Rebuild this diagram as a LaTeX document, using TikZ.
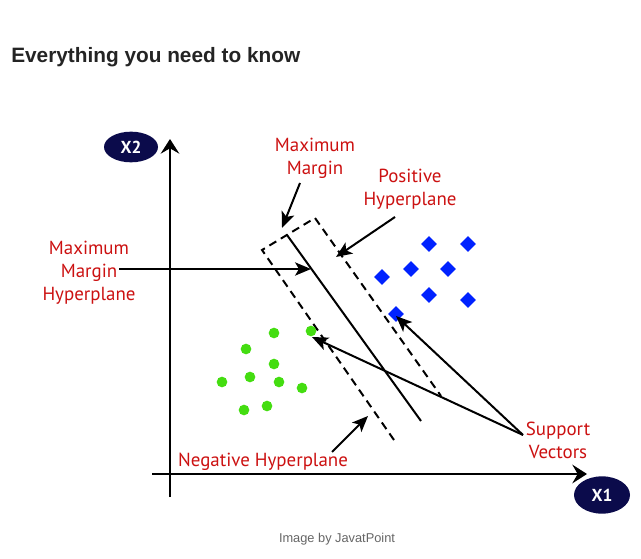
\documentclass[tikz,border=0pt]{standalone}
\usepackage{fontspec}
\setmainfont{PT Sans}
\newfontfamily\titlefont{Liberation Sans}
\usetikzlibrary{arrows.meta,shapes.geometric}
\definecolor{lblred}{HTML}{CC1111}
\definecolor{navyblue}{HTML}{0B0B4B}
\definecolor{dotgreen}{HTML}{44DD11}
\definecolor{diablue}{HTML}{0022FF}
\definecolor{captiongray}{HTML}{666666}
\definecolor{titlegray}{HTML}{242424}
\begin{document}
\begin{tikzpicture}[x=0.75pt,y=-0.75pt,
  lbl/.style={text=lblred, font=\fontsize{14.2}{17.2}\selectfont, align=center, inner sep=0pt},
  axisname/.style={ellipse, fill=navyblue, text=white, font=\fontsize{13}{15}\selectfont\bfseries, inner sep=0pt},
  gdot/.style={circle, fill=dotgreen, inner sep=0pt, minimum size=8pt},
  bdia/.style={diamond, fill=diablue, inner sep=0pt, minimum size=12pt},
  axisline/.style={line width=1.5pt, -{Stealth[length=11pt,width=14pt,inset=4pt]}},
  arr/.style={line width=1.5pt, -{Stealth[length=12pt,width=10pt,inset=3pt]}},
  thinarr/.style={line width=1.1pt, -{Stealth[length=12pt,width=10pt,inset=3pt]}},
  plane/.style={line width=1.5pt},
  margin/.style={line width=1.5pt, dash pattern=on 6pt off 4pt}
]
\useasboundingbox[fill=white] (0,0) rectangle (641,559);

% title
\node[anchor=west, inner sep=0pt, text=titlegray, font=\titlefont\fontsize{15.6}{18}\selectfont\bfseries] (title) at (11,57) {Everything you need to know};

% axes
\coordinate (yb) at (170,497);
\coordinate (yt) at (170,139);
\coordinate (xl) at (152,474);
\coordinate (xr) at (587,474);
\draw[axisline] (yb) -- (yt);
\draw[axisline] (xl) -- (xr);
\node[axisname, minimum width=40.5pt, minimum height=23pt] (x2) at (131,147) {X2};
\node[axisname, minimum width=42pt, minimum height=28pt] (x1) at (602,495) {X1};

% margin and hyperplane
\coordinate (lb) at (394,440);
\coordinate (lt) at (262,250);
\coordinate (rt) at (315,218);
\coordinate (rb) at (441,396);
\coordinate (ht) at (287,235);
\coordinate (hb) at (421,421);
\draw[margin] (lb) -- (lt) -- (rt) -- (rb);
\draw[plane] (ht) -- (hb);

% green dots
\foreach \p [count=\i] in {(274,333),(311,331),(246,349),(274,364),(222,382),(250,377),(279,382),(302,388),(244,410),(267,406)}
  \node[gdot] (g\i) at \p {};

% blue diamonds
\foreach \p [count=\i] in {(429,244),(468,244),(411,269),(448,269),(382,277),(429,295),(468,300),(396,314)}
  \node[bdia] (b\i) at \p {};

% labels
\node[lbl] (mm) at (315,158) {Maximum\\Margin};
\node[lbl] (ph) at (410,189) {Positive\\Hyperplane};
\node[lbl] (mmh) at (89,273) {Maximum\\Margin\\Hyperplane};
\node[lbl] (sv) at (558,440) {Support\\Vectors};
\node[lbl] (nh) at (263,462) {Negative Hyperplane};
\node[inner sep=0pt, text=captiongray, font=\titlefont\fontsize{9.6}{11}\selectfont] (cap) at (337,539) {Image by JavatPoint};

% arrows
\coordinate (mmS) at (300,183);
\coordinate (mmT) at (282,228);
\draw[arr] (mmS) -- (mmT);
\coordinate (phS) at (395,217);
\coordinate (phT) at (336,257);
\draw[arr] (phS) -- (phT);
\coordinate (mmhS) at (119,269);
\coordinate (mmhT) at (311,269);
\draw[thinarr] (mmhS) -- (mmhT);
\coordinate (svS) at (523,435);
\coordinate (svB) at (396,316);
\coordinate (svG) at (312,337);
\draw[arr] (svS) -- (svB);
\draw[arr] (svS) -- (svG);
\coordinate (nhS) at (332,452);
\coordinate (nhT) at (368,416);
\draw[arr] (nhS) -- (nhT);
\end{tikzpicture}
\end{document}
